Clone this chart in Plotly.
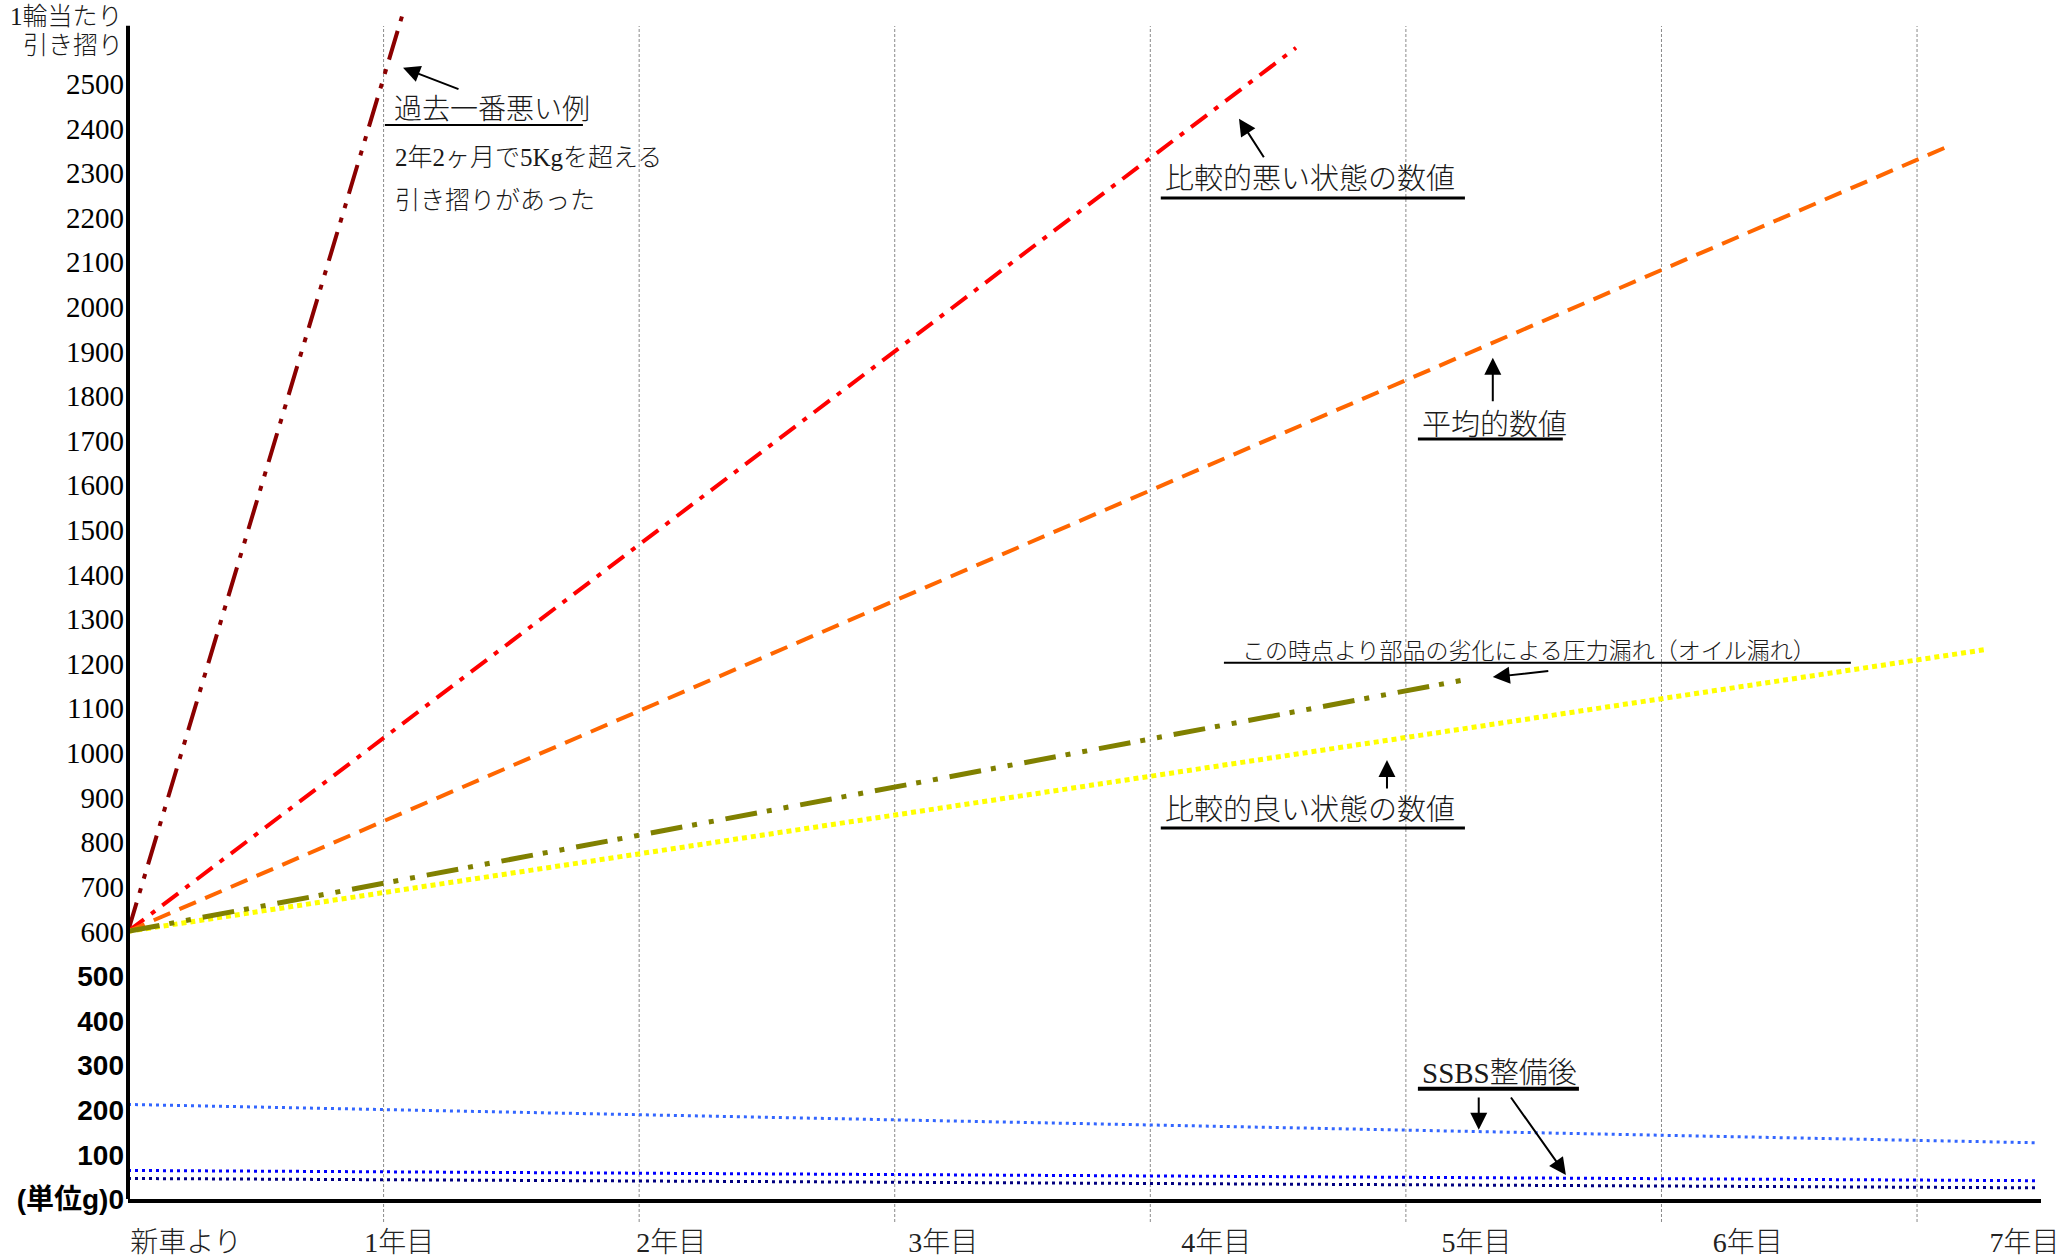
import plotly.graph_objects as go

# ---------------- data ----------------
# x in years since new car, y in grams of drag per wheel
worst_x = [0, 1.076]
worst_y = [600, 2659]
bad_x = [0, 4.57]
bad_y = [600, 2581]
avg_x = [0, 7.11]
avg_y = [600, 2357]
leak_x = [0, 5.23]
leak_y = [600, 1164]
good_x = [0, 7.27]
good_y = [600, 1232]
ssbs1_x = [0, 7.47]
ssbs1_y = [212, 126]
ssbs2_x = [0, 7.47]
ssbs2_y = [64, 41]
ssbs3_x = [0, 7.47]
ssbs3_y = [46, 25]

grid_years = [1, 2, 3, 4, 5, 6, 7]
x_label_pos = [0.227, 1.061, 2.126, 3.19, 4.258, 5.276, 6.338, 7.42]
x_labels = ["新車より", "1年目", "2年目", "3年目", "4年目", "5年目", "6年目", "7年目"]

y_ticks = list(range(0, 2600, 100))
y_labels = [("(単位g)" if v == 0 else "") + str(v) for v in y_ticks]

SERIF = "Liberation Serif, Noto Sans CJK JP, serif"

X_MAX = 7.485
Y_MAX = 2688
Y_AXIS_TOP = 2630

fig = go.Figure()

def line(x, y, color, width, dash):
    fig.add_trace(go.Scatter(x=x, y=y, mode="lines", showlegend=False,
                             line=dict(color=color, width=width, dash=dash),
                             hoverinfo="skip"))

line(worst_x, worst_y, "#8b0000", 4, "30px,10px,5px,10px,5px,10px")
line(bad_x, bad_y, "#ff0000", 4, "20px,9px,5px,9px")
line(avg_x, avg_y, "#ff6600", 4, "18px,10px")
line(good_x, good_y, "#ffff00", 5, "5px,4px")
line(leak_x, leak_y, "#808000", 5, "32px,10px,5px,12px,5px,12px")
line(ssbs1_x, ssbs1_y, "#3366ff", 3, "3px,4px")
line(ssbs2_x, ssbs2_y, "#0000ff", 3, "3px,4px")
line(ssbs3_x, ssbs3_y, "#000080", 3, "3px,4px")

# invisible trace to carry the label axis
fig.add_trace(go.Scatter(x=x_label_pos, y=[None] * len(x_label_pos), xaxis="x2",
                         mode="markers", showlegend=False, hoverinfo="skip"))

# y tick texts: 0-500 bold sans, 600+ serif
ticktext = []
for v, t in zip(y_ticks, y_labels):
    if v <= 500:
        ticktext.append('<span style="font-family:Liberation Sans, Noto Sans CJK JP;font-size:28px"><b>%s</b></span>' % t)
    else:
        ticktext.append(t)

shapes = []
# vertical dotted grid lines
for g in grid_years:
    shapes.append(dict(type="line", xref="x", yref="paper", x0=g, x1=g,
                       y0=-23 / 1199, y1=(1199 - 26) / 1199, layer="below",
                       line=dict(color="#8a8a8a", width=1, dash="3px,2px")))
# y axis line
shapes.append(dict(type="line", xref="paper", yref="y", x0=0, x1=0, y0=0, y1=Y_AXIS_TOP,
                   line=dict(color="black", width=4)))

# underlines of the notes
underlines = [
    (1.005, 1.780, 2408, 2),
    (4.041, 5.231, 2244, 3),
    (5.047, 5.614, 1704, 3),
    (4.288, 6.741, 1202, 2),
    (4.041, 5.231, 832, 3),
    (5.047, 5.677, 247, 4),
]
for x0, x1, yy, w in underlines:
    shapes.append(dict(type="line", xref="x", yref="y", x0=x0, x1=x1, y0=yy, y1=yy,
                       line=dict(color="black", width=w)))

annotations = []
notes = [
    ("過去一番悪い例", 1.033, 2442, 28),
    ("2年2ヶ月で5Kgを超える", 1.037, 2334, 25),
    ("引き摺りがあった", 1.037, 2238, 25),
    ("比較的悪い状態の数値", 4.049, 2287, 29),
    ("平均的数値", 5.055, 1735, 29),
    ("この時点より部品の劣化による圧力漏れ（オイル漏れ）", 4.351, 1228, 23),
    ("比較的良い状態の数値", 4.049, 872, 29),
    ("SSBS整備後", 5.055, 282, 29),
]
for txt, xx, yy, sz in notes:
    annotations.append(dict(text=txt, x=xx, y=yy, xref="x", yref="y", xanchor="left",
                            yanchor="middle", showarrow=False,
                            font=dict(family=SERIF, size=sz, color="#1a1a1a", weight=300)))

arrows = [
    (1.299, 2487, 1.076, 2536),
    (4.448, 2332, 4.347, 2422),
    (5.340, 1785, 5.340, 1886),
    (5.563, 1184, 5.340, 1170),
    (4.926, 917, 4.926, 984),
    (5.285, 231, 5.285, 155),
    (5.407, 231, 5.626, 54),
]
for ax_, ay_, hx, hy in arrows:
    annotations.append(dict(text="", x=hx, y=hy, ax=ax_, ay=ay_, xref="x", yref="y",
                            axref="x", ayref="y", showarrow=True, arrowhead=2,
                            arrowsize=1.7, arrowwidth=2, arrowcolor="black", standoff=0))

# axis title lines at top left
for txt, yy in [("1輪当たり", 2652), ("引き摺り", 2585)]:
    annotations.append(dict(text=txt, x=0, y=yy, xref="paper", yref="y", xanchor="right",
                            yanchor="middle", xshift=-3, showarrow=False,
                            font=dict(family=SERIF, size=25, color="#1a1a1a", weight=300)))

fig.update_layout(
    width=2067, height=1258,
    margin=dict(l=128, r=26, t=0, b=59, autoexpand=False),
    paper_bgcolor="white", plot_bgcolor="white",
    showlegend=False,
    xaxis=dict(range=[0, X_MAX], showgrid=False, zeroline=False, showticklabels=False,
               ticks="", showline=True, linecolor="black", linewidth=4, fixedrange=True,
               automargin=False),
    xaxis2=dict(overlaying="x", anchor="y", side="bottom", range=[0, X_MAX],
                tickmode="array", tickvals=x_label_pos, ticktext=x_labels,
                showgrid=False, zeroline=False, showline=False, ticks="",
                ticklabelstandoff=24, ticklabeloverflow="allow", automargin=False,
                tickfont=dict(family=SERIF, size=28, color="#222", weight=300)),
    yaxis=dict(range=[0, Y_MAX], tickmode="array", tickvals=y_ticks, ticktext=ticktext,
               showgrid=False, zeroline=False, showline=False, ticks="",
               ticklabelstandoff=3, automargin=False,
               tickfont=dict(family=SERIF, size=29, color="black")),
    shapes=shapes,
    annotations=annotations,
)

fig.write_html("out.html", config={"displayModeBar": False},
               post_script="document.body.style.margin='0px';")
